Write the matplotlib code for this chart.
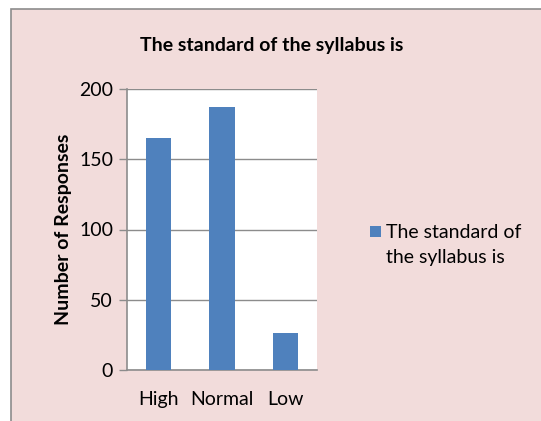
import matplotlib
matplotlib.use("Agg")
import matplotlib.pyplot as plt
from matplotlib.patches import Rectangle

# data
categories = ["High", "Normal", "Low"]
responses = [165, 187, 26]
series_name = "The standard of the syllabus is"
legend_label = "The standard of\nthe syllabus is"

plt.rcParams['font.family'] = ['Lato', 'DejaVu Sans']

W, H = 541, 421
fig = plt.figure(figsize=(W / 100, H / 100), dpi=100, facecolor='white')

# chart area background with border
bg = Rectangle((11 / W, -0.1), 1.2, 1 - 9 / H + 0.1, transform=fig.transFigure,
               facecolor='#F2DCDB', edgecolor='#8C8C8C', linewidth=1.2, zorder=-10)
fig.patches.append(bg)

ax = fig.add_axes([127 / W, 1 - 370 / H, 190 / W, 281 / H])
ax.set_facecolor('white')
x = range(len(categories))
bars = ax.bar(x, responses, width=0.4, color='#4F81BD', zorder=3, label=series_name)
ax.set_xlim(-0.5, 2.5)
ax.set_ylim(0, 200)
ax.set_yticks([0, 50, 100, 150, 200])
ax.set_xticks(list(x))
ax.set_xticklabels(categories)
ax.grid(axis='y', color='#8C8C8C', linewidth=1, zorder=1)
ax.set_axisbelow(True)
ax.tick_params(axis='y', length=6, width=1, color='#8C8C8C', labelsize=14, pad=4)
ax.tick_params(axis='x', length=0, labelsize=14, pad=15)
for s in ['top', 'right']:
    ax.spines[s].set_visible(False)
for s in ['left', 'bottom']:
    ax.spines[s].set_color('#8C8C8C')
    ax.spines[s].set_linewidth(1.2)

ax.set_ylabel("Number of Responses", fontsize=14, fontweight='bold', labelpad=5)
fig.text(272 / W, 1 - 45 / H, series_name, ha='center', va='center',
         fontsize=14, fontweight='bold')

# legend: square key next to the first line of the label
key = Rectangle((370 / W, 1 - 237 / H), 11 / W, 11 / H, transform=fig.transFigure,
                facecolor='#4F81BD', edgecolor='none')
fig.patches.append(key)
fig.text(386 / W, 1 - 245 / H, legend_label, ha='left', va='center',
         fontsize=14, linespacing=1.6)

fig.savefig("out.png", dpi=100, facecolor='white')
